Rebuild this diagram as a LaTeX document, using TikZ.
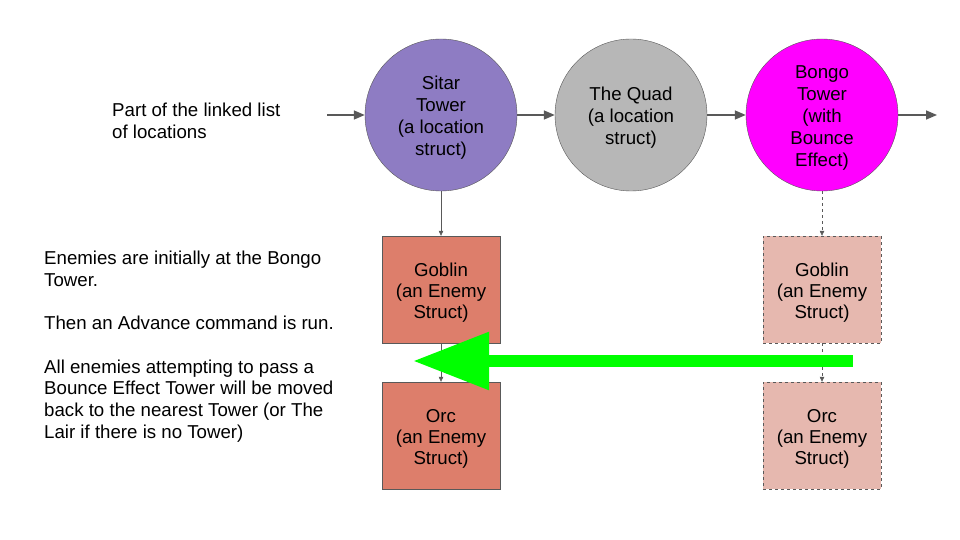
\documentclass[tikz,border=0pt]{standalone}
\usepackage{fontspec}
\setmainfont{Liberation Sans}
\usetikzlibrary{arrows.meta}
\definecolor{sitarcol}{HTML}{8E7CC3}
\definecolor{quadcol}{HTML}{B7B7B7}
\definecolor{bongocol}{HTML}{FF00FF}
\definecolor{enemycol}{HTML}{DD7E6B}
\definecolor{ghostcol}{HTML}{E6B8AF}
\definecolor{edgecol}{HTML}{595959}
\definecolor{bouncecol}{HTML}{00FF00}
\newcommand\toprule{\rule{0pt}{19pt}}
\tikzset{
  loc/.style={circle, draw=edgecol, minimum size=152pt, inner sep=0pt, align=center, font=\fontsize{18.67}{22}\selectfont},
  enemy/.style={rectangle, draw=edgecol, fill=enemycol, minimum width=118pt, minimum height=107pt, align=center, font=\fontsize{18.67}{21}\selectfont},
  ghost/.style={enemy, fill=ghostcol, dashed},
  link/.style={draw=edgecol, line width=1.5pt, -{Triangle[length=11pt,width=9pt]}},
  hold/.style={draw=edgecol, line width=0.6pt, -{Triangle[length=5pt,width=4.5pt]}},
  note/.style={anchor=north west, inner sep=0pt, align=left, font=\fontsize{18.67}{21.7}\selectfont}
}
\begin{document}
\begin{tikzpicture}[x=1pt,y=-1pt]
        \useasboundingbox (0,0) rectangle (960,540);
        %% Linked list of locations
        \node[loc, fill=sitarcol] (sitar) at (441,115) {\toprule Sitar\\Tower\\(a location\\struct)};
        \node[loc, fill=quadcol] (quad) at (631,115) {\toprule The Quad\\(a location\\struct)};
        \node[loc, fill=bongocol] (bongo) at (822,115) {\toprule Bongo\\Tower\\(with\\Bounce\\Effect)};
        \coordinate (listin) at (327,115);
        \coordinate (listout) at (937,115);
        \draw[link] (listin) -- (sitar);
        \draw[link] (sitar) -- (quad);
        \draw[link] (quad) -- (bongo);
        \draw[link] (bongo) -- (listout);
        %% Enemies now
        \node[enemy] (goblinA) at (441,289.5) {\toprule Goblin\\(an Enemy\\Struct)};
        \node[enemy] (orcA) at (441,435.5) {\toprule Orc\\(an Enemy\\Struct)};
        \draw[hold] (sitar) -- (goblinA);
        \draw[hold] (goblinA) -- (orcA);
        %% Enemies before
        \node[ghost] (goblinB) at (822,289.5) {\toprule Goblin\\(an Enemy\\Struct)};
        \node[ghost] (orcB) at (822,435.5) {\toprule Orc\\(an Enemy\\Struct)};
        \draw[hold, dashed] (bongo) -- (goblinB);
        \draw[hold, dashed] (goblinB) -- (orcB);
        %% Bounce
        \coordinate (bouncefrom) at (853,361);
        \coordinate (bounceto) at (413,361);
        \draw[draw=bouncecol, line width=12pt, -{Triangle[length=76pt,width=55pt]}] (bouncefrom) -- (bounceto);
        %% Notes
        \node[note] (listnote) at (112,103) {Part of the linked list\\of locations};
        \node[note] (enemynote) at (44,251) {Enemies are initially at the Bongo\\Tower.\\[21.7pt]Then an Advance command is run.\\[21.7pt]All enemies attempting to pass a\\Bounce Effect Tower will be moved\\back to the nearest Tower (or The\\Lair if there is no Tower)};
    \end{tikzpicture}
\end{document}
